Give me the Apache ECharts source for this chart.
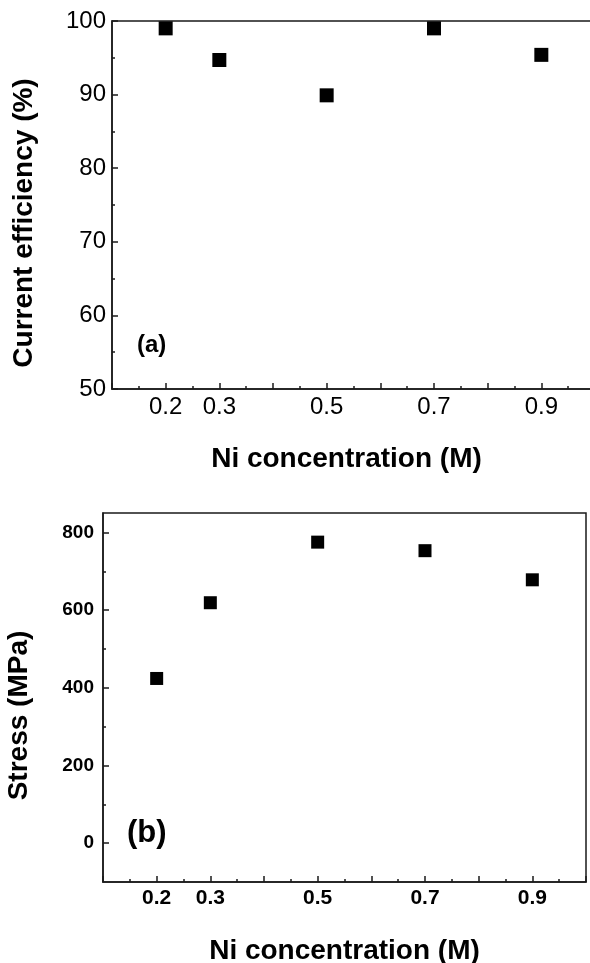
<!DOCTYPE html>
<html>
<head>
<meta charset="utf-8">
<script src="https://cdn.jsdelivr.net/npm/echarts@6/dist/echarts.min.js"></script>
<style>
html,body{margin:0;padding:0;background:#fff;}
#chart{width:590px;height:963px;}
</style>
</head>
<body>
<div id="chart"></div>
<script>
// ---- data ----
const concentrations = [0.2, 0.3, 0.5, 0.7, 0.9];
const currentEfficiency = [99.0, 94.7, 89.9, 99.0, 95.4];
const stress = [424, 619, 775, 753, 678];
const xTickLabels = [0.2, 0.3, 0.5, 0.7, 0.9];
const stressTickLabels = [0, 200, 400, 600, 800];
const stressMinorTicks = [100, 300, 500, 700];
const xTitle = 'Ni concentration (M)';
const effTitle = 'Current efficiency (%)';
const stressTitle = 'Stress (MPa)';

const FONT = 'Arial, "Liberation Sans", Helvetica, sans-serif';
const AX = '#1a1a1a';

const chart = echarts.init(document.getElementById('chart'), null, {renderer: 'canvas'});

function xAxisCfg(gridIndex, bold, size, nameGap, namePad) {
  return {
    type: 'value', gridIndex: gridIndex, min: 0.1, max: 1.0, interval: 0.1,
    name: xTitle, nameLocation: 'middle', nameGap: nameGap,
    nameTextStyle: {fontFamily: FONT, fontWeight: 'bold', fontSize: 28, color: '#000', padding: namePad},
    axisLine: {show: true, onZero: false, lineStyle: {color: AX, width: 1.5}},
    axisTick: {show: true, inside: true, length: 6, lineStyle: {color: AX, width: 1.5}},
    minorTick: {show: true, splitNumber: 2, length: 3, lineStyle: {color: AX, width: 1.5}},
    splitLine: {show: false}, minorSplitLine: {show: false},
    axisLabel: {
      customValues: xTickLabels, margin: 6,
      formatter: v => Number(v).toFixed(1),
      fontFamily: FONT, fontWeight: bold ? 'bold' : 'normal', fontSize: size, color: '#000'
    }
  };
}

const option = {
  animation: false,
  backgroundColor: '#fff',
  grid: [
    {left: 112, top: 21, width: 483, height: 368, outerBoundsMode: 'none', show: true, borderColor: AX, borderWidth: 1.5, backgroundColor: 'transparent'},
    {left: 103, top: 513, width: 483, height: 369, outerBoundsMode: 'none', show: true, borderColor: AX, borderWidth: 1.5, backgroundColor: 'transparent'}
  ],
  xAxis: [
    xAxisCfg(0, false, 24, 56, [0, 14, 0, 0]),
    xAxisCfg(1, true, 21, 55, [0, 0, 0, 0])
  ],
  yAxis: [
    {
      type: 'value', gridIndex: 0, min: 50, max: 100, interval: 10,
      name: effTitle, nameLocation: 'middle', nameGap: 74, nameRotate: 90,
      nameTextStyle: {fontFamily: FONT, fontWeight: 'bold', fontSize: 28, color: '#000', padding: [0, 36, 0, 0]},
      axisLine: {show: true, onZero: false, lineStyle: {color: AX, width: 1.5}},
      axisTick: {show: true, inside: true, length: 6, lineStyle: {color: AX, width: 1.5}},
      minorTick: {show: true, splitNumber: 2, length: 3, lineStyle: {color: AX, width: 1.5}},
      splitLine: {show: false},
      axisLabel: {margin: 6, fontFamily: FONT, fontSize: 24, color: '#000'}
    },
    {
      type: 'value', gridIndex: 1, min: -100, max: 850,
      name: stressTitle, nameLocation: 'middle', nameGap: 70, nameRotate: 90,
      nameTextStyle: {fontFamily: FONT, fontWeight: 'bold', fontSize: 28, color: '#000', padding: [0, 36, 0, 0]},
      axisLine: {show: true, onZero: false, lineStyle: {color: AX, width: 1.5}},
      axisTick: {show: true, inside: true, length: 6, customValues: stressTickLabels, lineStyle: {color: AX, width: 1.5}},
      splitLine: {show: false},
      axisLabel: {customValues: stressTickLabels, margin: 9, fontFamily: FONT, fontWeight: 'bold', fontSize: 19, color: '#000'}
    },
    {
      type: 'value', gridIndex: 1, min: -100, max: 850, position: 'left',
      axisLine: {show: false},
      axisTick: {show: true, inside: true, length: 3, customValues: stressMinorTicks, lineStyle: {color: AX, width: 1.5}},
      splitLine: {show: false},
      axisLabel: {show: false}
    }
  ],
  graphic: [
    {type: 'text', left: 137, top: 333, style: {text: '(a)', font: 'bold 24px ' + FONT, fill: '#000'}},
    {type: 'text', left: 127, top: 818, style: {text: '(b)', font: 'bold 31px ' + FONT, fill: '#000'}}
  ],
  series: [
    {
      type: 'scatter', xAxisIndex: 0, yAxisIndex: 0, symbol: 'rect', symbolSize: 14,
      itemStyle: {color: '#000', opacity: 1},
      data: concentrations.map((c, i) => [c, currentEfficiency[i]])
    },
    {
      type: 'scatter', xAxisIndex: 1, yAxisIndex: 1, symbol: 'rect', symbolSize: 13,
      itemStyle: {color: '#000', opacity: 1},
      data: concentrations.map((c, i) => [c, stress[i]])
    }
  ]
};
chart.setOption(option);
</script>
</body>
</html>
